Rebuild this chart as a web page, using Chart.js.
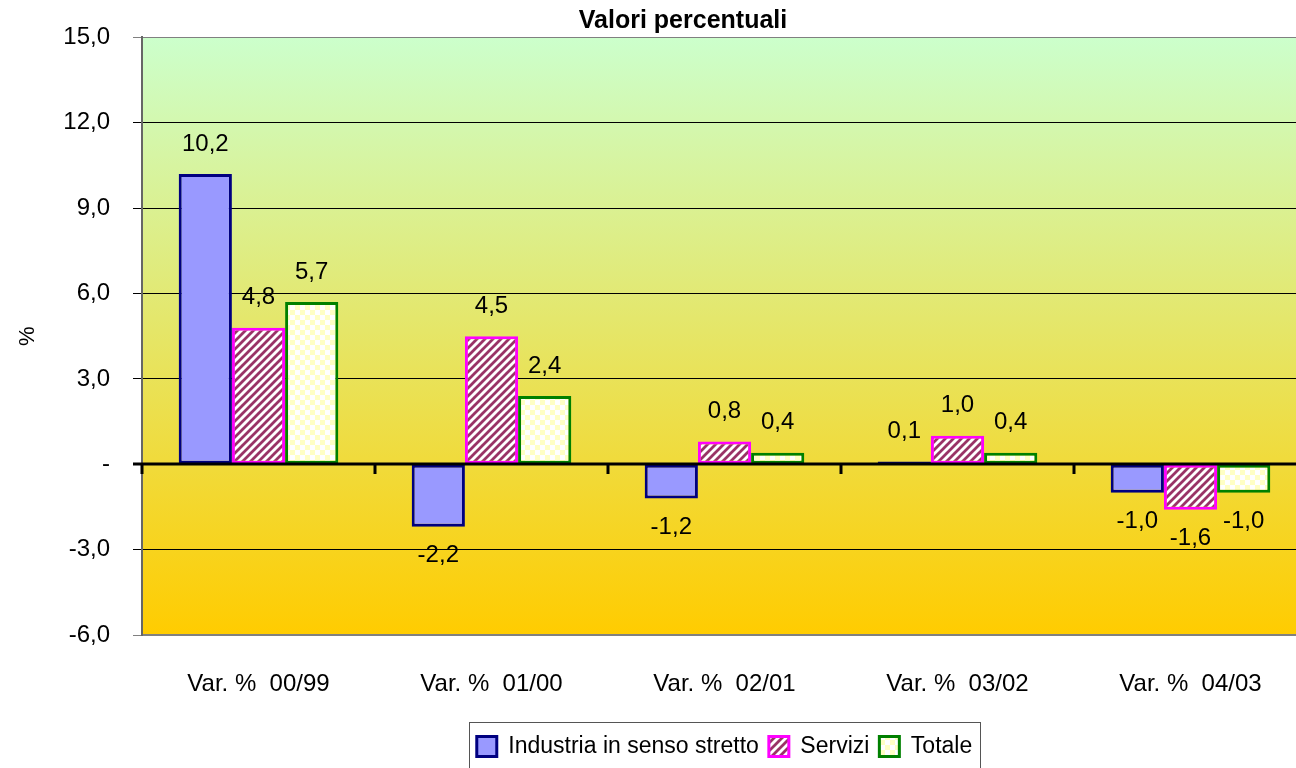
<!DOCTYPE html>
<html>
<head>
<meta charset="utf-8">
<script src="https://cdn.jsdelivr.net/npm/chart.js@4.4.0/dist/chart.umd.min.js"></script>
<style>
  html, body { margin: 0; padding: 0; background: #fff; overflow: hidden; }
  #chart { position: absolute; left: 0; top: 0; }
</style>
</head>
<body>
<canvas id="chart" width="1366" height="768"></canvas>
<script>
const categories = ["Var. %  00/99", "Var. %  01/00", "Var. %  02/01", "Var. %  03/02", "Var. %  04/03"]
const industria = [10.2, -2.2, -1.2, 0.1, -1.0]
const servizi = [4.8, 4.5, 0.8, 1.0, -1.6]
const totale = [5.7, 2.4, 0.4, 0.4, -1.0]
const yTicks = [-6, -3, 0, 3, 6, 9, 12, 15]

const FONT = "'Liberation Sans', Arial, sans-serif"

const fmt = (v) => v.toFixed(1).replace('.', ',')

function stripePattern(){
    const c = document.createElement('canvas')
    c.width = 8
    c.height = 8
    const g = c.getContext('2d')
    g.fillStyle = '#ffffff'
    g.fillRect(0, 0, 8, 8)
    g.strokeStyle = '#993366'
    g.lineWidth = 2.8
    g.beginPath()
    g.moveTo(-2, 10); g.lineTo(10, -2)
    g.moveTo(-6, 6); g.lineTo(6, -6)
    g.moveTo(2, 14); g.lineTo(14, 2)
    g.stroke()
    return g.createPattern(c, 'repeat')
}

function checkerPattern(){
    const c = document.createElement('canvas')
    c.width = 10
    c.height = 10
    const g = c.getContext('2d')
    g.fillStyle = '#ffffff'
    g.fillRect(0, 0, 10, 10)
    g.fillStyle = '#ffffc4'
    g.fillRect(0, 0, 5, 5)
    g.fillRect(5, 5, 5, 5)
    return g.createPattern(c, 'repeat')
}

const plotBackground = {
    id: 'plotBackground',
    beforeDraw(chart){
        const { ctx, chartArea: a } = chart
        ctx.save()
        ctx.fillStyle = '#ffffff'
        ctx.fillRect(0, 0, chart.width, chart.height)
        const grad = ctx.createLinearGradient(0, a.top, 0, a.bottom)
        grad.addColorStop(0, '#ccffcc')
        grad.addColorStop(1, '#ffcc00')
        ctx.fillStyle = grad
        ctx.fillRect(a.left, a.top, a.right - a.left, a.bottom - a.top)
        ctx.restore()
    }
}

const zeroAxis = {
    id: 'zeroAxis',
    afterDatasetsDraw(chart){
        const { ctx, chartArea: a, scales } = chart
        const y0 = Math.round(scales.y.getPixelForValue(0))
        ctx.save()
        ctx.strokeStyle = '#000'
        ctx.lineWidth = 3
        ctx.beginPath()
        ctx.moveTo(a.left - 9, y0)
        ctx.lineTo(a.right, y0)
        const step = (a.right - a.left) / categories.length
        for (let i = 0; i <= categories.length; i++){
            const x = Math.round(a.left + i * step)
            ctx.moveTo(x, y0)
            ctx.lineTo(x, y0 + 10)
        }
        ctx.stroke()
        ctx.restore()
    }
}

const valueLabels = {
    id: 'valueLabels',
    afterDatasetsDraw(chart){
        const { ctx } = chart
        ctx.save()
        ctx.font = "24px " + FONT
        ctx.fillStyle = '#000'
        ctx.textAlign = 'center'
        ctx.textBaseline = 'middle'
        chart.data.datasets.forEach((ds, di) => {
            const meta = chart.getDatasetMeta(di)
            meta.data.forEach((bar, i) => {
                const v = ds.data[i]
                const y = v >= 0 ? bar.y - 30 : bar.y + 29
                ctx.fillText(fmt(v), bar.x, y)
            })
        })
        ctx.restore()
    }
}

const legendFrame = {
    id: 'legendFrame',
    afterDraw(chart){
        const boxes = chart.legend.legendHitBoxes
        if (!boxes || !boxes.length){
            return
        }
        const first = boxes[0]
        const last = boxes[boxes.length - 1]
        const { ctx } = chart
        ctx.save()
        ctx.strokeStyle = '#555'
        ctx.lineWidth = 1
        ctx.strokeRect(Math.round(first.left - 8) + 0.5, Math.round(first.top - 13) + 0.5,
            Math.round(last.left + last.width - first.left + 16), 60)
        ctx.restore()
    }
}

const chart = new Chart(document.getElementById('chart'), {
    type: 'bar',
    data: {
        labels: categories,
        datasets: [
            {
                label: 'Industria in senso stretto',
                data: industria,
                backgroundColor: '#9999ff',
                borderColor: '#000080',
                borderWidth: 3,
                borderSkipped: false,
            },
            {
                label: 'Servizi',
                data: servizi,
                backgroundColor: stripePattern(),
                borderColor: '#ff00ff',
                borderWidth: 3,
                borderSkipped: false,
            },
            {
                label: 'Totale',
                data: totale,
                backgroundColor: checkerPattern(),
                borderColor: '#008000',
                borderWidth: 3,
                borderSkipped: false,
            },
        ]
    },
    options: {
        responsive: false,
        animation: false,
        devicePixelRatio: 1,
        categoryPercentage: 0.685,
        barPercentage: 1,
        layout: {
            padding: 0
        },
        plugins: {
            title: {
                display: true,
                text: 'Valori percentuali',
                color: '#000',
                font: { family: FONT, size: 25, weight: 'bold' },
                padding: { top: 4, bottom: 1 },
            },
            legend: {
                position: 'bottom',
                fullSize: false,
                labels: {
                    color: '#000',
                    font: { family: FONT, size: 23 },
                    boxWidth: 20,
                    boxHeight: 20,
                    padding: 10,
                }
            },
            tooltip: { enabled: false },
        },
        scales: {
            x: {
                grid: { display: false },
                border: { display: true, color: '#808080', width: 2 },
                ticks: {
                    color: '#000',
                    font: { family: FONT, size: 24 },
                    padding: 27,
                    maxRotation: 0,
                },
                afterFit: (scale) => { scale.height = 90 },
            },
            y: {
                min: yTicks[0],
                max: yTicks[yTicks.length - 1],
                afterBuildTicks: (scale) => { scale.ticks = yTicks.map(v => ({ value: v })) },
                grid: {
                    color: (c) => (c.tick && (c.tick.value === 15 || c.tick.value === -6)) ? '#808080' : '#000',
                    lineWidth: 1,
                    tickLength: 9,
                },
                border: { display: true, color: '#666', width: 2 },
                ticks: {
                    color: '#000',
                    font: { family: FONT, size: 24 },
                    padding: 23,
                    callback: (v) => v === 0 ? '-' : fmt(v),
                },
                title: {
                    display: true,
                    text: '%',
                    color: '#000',
                    font: { family: FONT, size: 22 },
                    padding: { top: 15, bottom: 0 },
                },
                afterFit: (scale) => { scale.width = 142 },
            },
            yRight: {
                type: 'linear',
                position: 'right',
                display: true,
                grid: { display: false, drawTicks: false },
                border: { display: false },
                ticks: { display: false },
                afterFit: (scale) => { scale.width = 59 },
            }
        }
    },
    plugins: [plotBackground, zeroAxis, valueLabels, legendFrame]
})
</script>
</body>
</html>
